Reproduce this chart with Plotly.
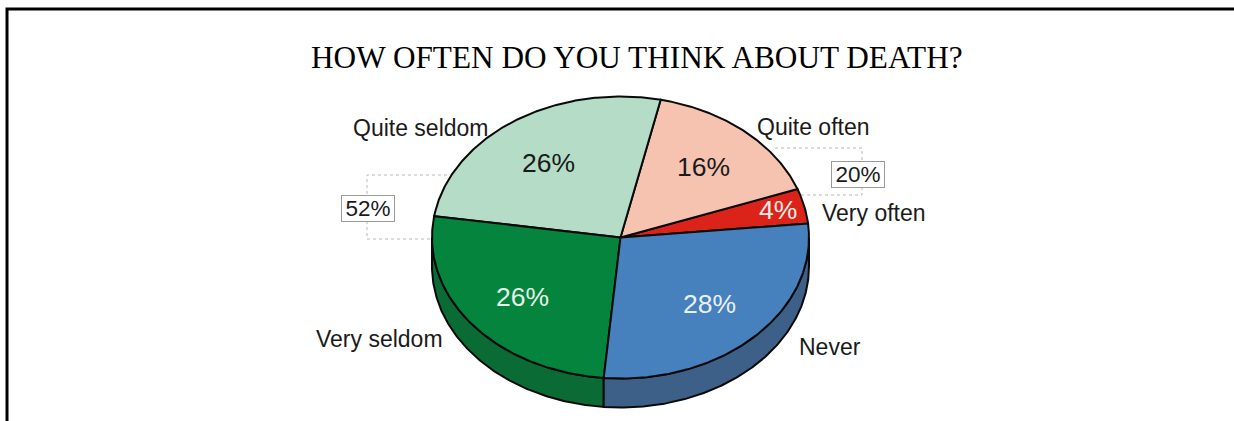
import numpy as np
import plotly.graph_objects as go

# Survey shares, listed anticlockwise from the right-hand edge of the pie
categories = ["Very often", "Quite often", "Quite seldom", "Very seldom", "Never"]
shares = [4, 16, 26, 26, 28]
top_colors = ["#dc2319", "#f5c3b0", "#b5dcc7", "#05843d", "#4680bd"]
side_colors = ["#a01a12", "#b58f80", "#85a392", "#0b6b34", "#3d6088"]
pct_colors = ["#f4ece8", "#1a1a1a", "#1a1a1a", "#e4f2e8", "#e8f0f8"]

# Pie geometry on a pixel-sized data scale
CX, CY, RX, RY, DEPTH = 620.5, 237.5, 188.5, 141.0, 29.0
START_DEG = 5.7

category_pos = {
    "Very often": (874, 213),
    "Quite often": (813, 127),
    "Quite seldom": (420.5, 128),
    "Very seldom": (379, 339),
    "Never": (830, 347),
}
pct_pos = [(778, 210), (703, 167), (548, 163), (522, 297), (709, 304)]


def rim(t0, t1, dy=0.0):
    t = np.radians(np.linspace(t0, t1, max(int(abs(t1 - t0)) * 2, 2) + 1))
    return CX + RX * np.cos(t), CY + dy - RY * np.sin(t)


fig = go.Figure()
edges = START_DEG + np.cumsum([0] + shares) * 3.6

# Front wall: only the part of each slice facing the viewer (180-360 degrees)
for i, cat in enumerate(categories):
    a, b = max(edges[i], 180.0), min(edges[i + 1], 360.0)
    if b <= a:
        continue
    xt, yt = rim(a, b)
    xb, yb = rim(b, a, DEPTH)
    fig.add_trace(go.Scatter(
        x=np.r_[xt, xb, xt[0]], y=np.r_[yt, yb, yt[0]], mode="lines", fill="toself",
        fillcolor=side_colors[i], line=dict(color="#0a0a0a", width=2),
        hoverinfo="skip", showlegend=False))

# Top face of the pie
for i, cat in enumerate(categories):
    xs, ys = rim(edges[i], edges[i + 1])
    fig.add_trace(go.Scatter(
        x=np.r_[CX, xs, CX], y=np.r_[CY, ys, CY], mode="lines", fill="toself",
        fillcolor=top_colors[i], line=dict(color="#0a0a0a", width=2),
        name=cat, hovertemplate=f"{cat}: {shares[i]}%<extra></extra>", showlegend=False))

# Percentages on the slices and category names around them
for i, cat in enumerate(categories):
    fig.add_annotation(x=pct_pos[i][0], y=pct_pos[i][1], text=f"{shares[i]}%", showarrow=False,
                       font=dict(family="Liberation Sans", size=26.5, color=pct_colors[i]))
    fig.add_annotation(x=category_pos[cat][0], y=category_pos[cat][1], text=cat, showarrow=False,
                       font=dict(family="Liberation Sans", size=23, color="#1a1a1a"))

# Group totals in boxes, tied to their slices by dotted brackets
often_total = shares[0] + shares[1]
seldom_total = shares[2] + shares[3]
for path in ("M 447 175 L 367 175 L 367 239 L 432 239",
             "M 775 148 L 862 148 L 862 195 L 800 195"):
    fig.add_shape(type="path", path=path, layer="below",
                  line=dict(color="#b8b8b8", width=1, dash="dot"))
for total, (bx, by) in ((seldom_total, (368, 208.5)), (often_total, (858, 174))):
    fig.add_annotation(x=bx, y=by, text=f"{total}%", showarrow=False, width=50, height=23,
                       bgcolor="white", bordercolor="#9a9a9a", borderwidth=1, borderpad=1,
                       font=dict(family="Liberation Sans", size=22.5, color="#1a1a1a"))

fig.add_annotation(x=637, y=57, text="HOW OFTEN DO YOU THINK ABOUT DEATH?", showarrow=False,
                   font=dict(family="Liberation Serif", size=31.25, color="#000000"))

# Frame open at the bottom
fig.add_shape(type="path", path="M 7 421 L 7 9 L 1234 9", line=dict(color="#000000", width=3))

fig.update_xaxes(range=[0, 1234], visible=False, fixedrange=True)
fig.update_yaxes(range=[421, 0], visible=False, fixedrange=True)
fig.update_layout(width=1234, height=421, margin=dict(l=0, r=0, t=0, b=0),
                  paper_bgcolor="white", plot_bgcolor="white", showlegend=False)

fig.write_html("out.html", config=dict(displayModeBar=False))
